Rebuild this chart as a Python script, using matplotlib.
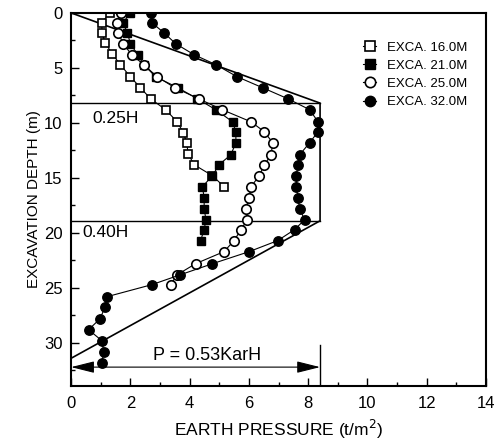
import matplotlib.pyplot as plt
from matplotlib.ticker import MultipleLocator

plt.rcParams['font.family'] = ['Liberation Sans', 'DejaVu Sans']

# Measured earth pressure (t/m2) versus depth (m) for each excavation stage
depth_16 = [0, 0.9, 1.8, 2.7, 3.7, 4.7, 5.8, 6.8, 7.8, 8.8, 9.9, 10.9, 11.8, 12.8, 13.8, 14.8, 15.8]
press_16 = [1.3, 1.04, 1.04, 1.15, 1.38, 1.66, 2.0, 2.34, 2.68, 3.19, 3.58, 3.79, 3.9, 3.95, 4.15, 4.77, 5.16]

depth_21 = [0, 0.9, 1.8, 2.8, 3.8, 4.7, 5.8, 6.8, 7.8, 8.8, 9.9, 10.8, 11.8, 12.9, 13.8, 14.8, 15.8,
            16.8, 17.8, 18.8, 19.7, 20.7]
press_21 = [2.0, 1.75, 1.9, 2.0, 2.25, 2.45, 2.85, 3.6, 4.26, 4.88, 5.45, 5.56, 5.56, 5.39, 4.99, 4.77,
            4.43, 4.49, 4.49, 4.55, 4.49, 4.37]

depth_25 = [0, 0.9, 1.8, 2.8, 3.8, 4.7, 5.8, 6.8, 7.8, 8.8, 9.9, 10.8, 11.8, 12.9, 13.8, 14.8, 15.8,
            16.8, 17.8, 18.8, 19.7, 20.7, 21.7, 22.8, 23.8, 24.7]
press_25 = [1.7, 1.55, 1.6, 1.75, 2.05, 2.45, 2.9, 3.5, 4.3, 5.1, 6.07, 6.52, 6.8, 6.75, 6.52, 6.35,
            6.07, 6.0, 5.9, 5.95, 5.73, 5.5, 5.16, 4.2, 3.58, 3.36]

depth_32 = [0, 0.9, 1.8, 2.8, 3.8, 4.7, 5.8, 6.8, 7.8, 8.8, 9.9, 10.8, 11.8, 12.9, 13.8, 14.8, 15.8,
            16.8, 17.8, 18.8, 19.7, 20.7, 21.7, 22.8, 23.8, 24.7, 25.8, 26.7, 27.8, 28.8, 29.8, 30.8, 31.8]
press_32 = [2.68, 2.73, 3.13, 3.53, 4.15, 4.88, 5.6, 6.46, 7.31, 8.05, 8.33, 8.33, 8.05, 7.71, 7.65,
            7.6, 7.6, 7.65, 7.71, 7.88, 7.54, 6.97, 6.01, 4.77, 3.69, 2.73, 1.21, 1.15, 0.98, 0.59,
            1.04, 1.1, 1.04]

# Apparent pressure envelope: P = 0.53 Ka*gamma*H
p_max = 8.4
top_break = 8.2
low_break = 18.9
env_depth = [0, top_break, low_break, 31.4]
env_press = [0, p_max, p_max, 0]

fig = plt.figure(figsize=(4.97, 4.45), dpi=100)
ax = fig.add_axes([0.143, 0.133, 0.835, 0.838])

ax.plot(env_press, env_depth, color='black', lw=1.2)
ax.plot([0, p_max], [top_break, top_break], color='black', lw=1.0)
ax.plot([0, p_max], [low_break, low_break], color='black', lw=1.0)
ax.plot([p_max, p_max], [30.2, 34], color='black', lw=1.0)

ms = 6.8
ax.plot(press_16, depth_16, color='black', lw=0.8, marker='s', ms=ms - 0.6,
        mfc='white', mec='black', mew=1.2, label='EXCA. 16.0M')
ax.plot(press_21, depth_21, color='black', lw=0.8, marker='s', ms=ms - 0.6,
        mfc='black', mec='black', label='EXCA. 21.0M')
ax.plot(press_25, depth_25, color='black', lw=0.8, marker='o', ms=ms,
        mfc='white', mec='black', mew=1.2, label='EXCA. 25.0M')
ax.plot(press_32, depth_32, color='black', lw=0.8, marker='o', ms=ms,
        mfc='black', mec='black', label='EXCA. 32.0M')

ax.text(0.72, 9.6, '0.25H', fontsize=12.5, va='center', ha='left')
ax.text(0.38, 20.0, '0.40H', fontsize=12.5, va='center', ha='left')

ax.annotate('', xy=(0, 32.2), xytext=(p_max, 32.2),
            arrowprops=dict(arrowstyle='<|-|>,head_length=0.6,head_width=0.15',
                            color='black', lw=0.8, mutation_scale=24,
                            shrinkA=0, shrinkB=0))
ax.text(4.6, 31.1, 'P = 0.53KarH', fontsize=13, ha='center', va='center')

ax.set_xlim(0, 14)
ax.set_ylim(33.9, 0)
ax.xaxis.set_major_locator(MultipleLocator(2))
ax.xaxis.set_minor_locator(MultipleLocator(1))
ax.yaxis.set_major_locator(MultipleLocator(5))
ax.yaxis.set_minor_locator(MultipleLocator(2.5))
ax.tick_params(which='both', direction='in', labelsize=12, width=1.0)
ax.tick_params(which='major', length=6)
ax.tick_params(which='minor', length=3)
ax.tick_params(axis='x', pad=7)
ax.tick_params(axis='y', pad=6)
for spine in ax.spines.values():
    spine.set_linewidth(1.5)

ax.set_xlabel('EARTH PRESSURE (t/m$^2$)', fontsize=12.5, labelpad=5)
ax.set_ylabel('EXCAVATION DEPTH (m)', fontsize=11, labelpad=2)

ax.legend(loc='upper left', bbox_to_anchor=(0.688, 0.941), frameon=False,
          fontsize=9.5, handlelength=1.0, handletextpad=0.8, labelspacing=0.45,
          borderpad=0, markerscale=1.1)

fig.savefig('out.png', dpi=100)
